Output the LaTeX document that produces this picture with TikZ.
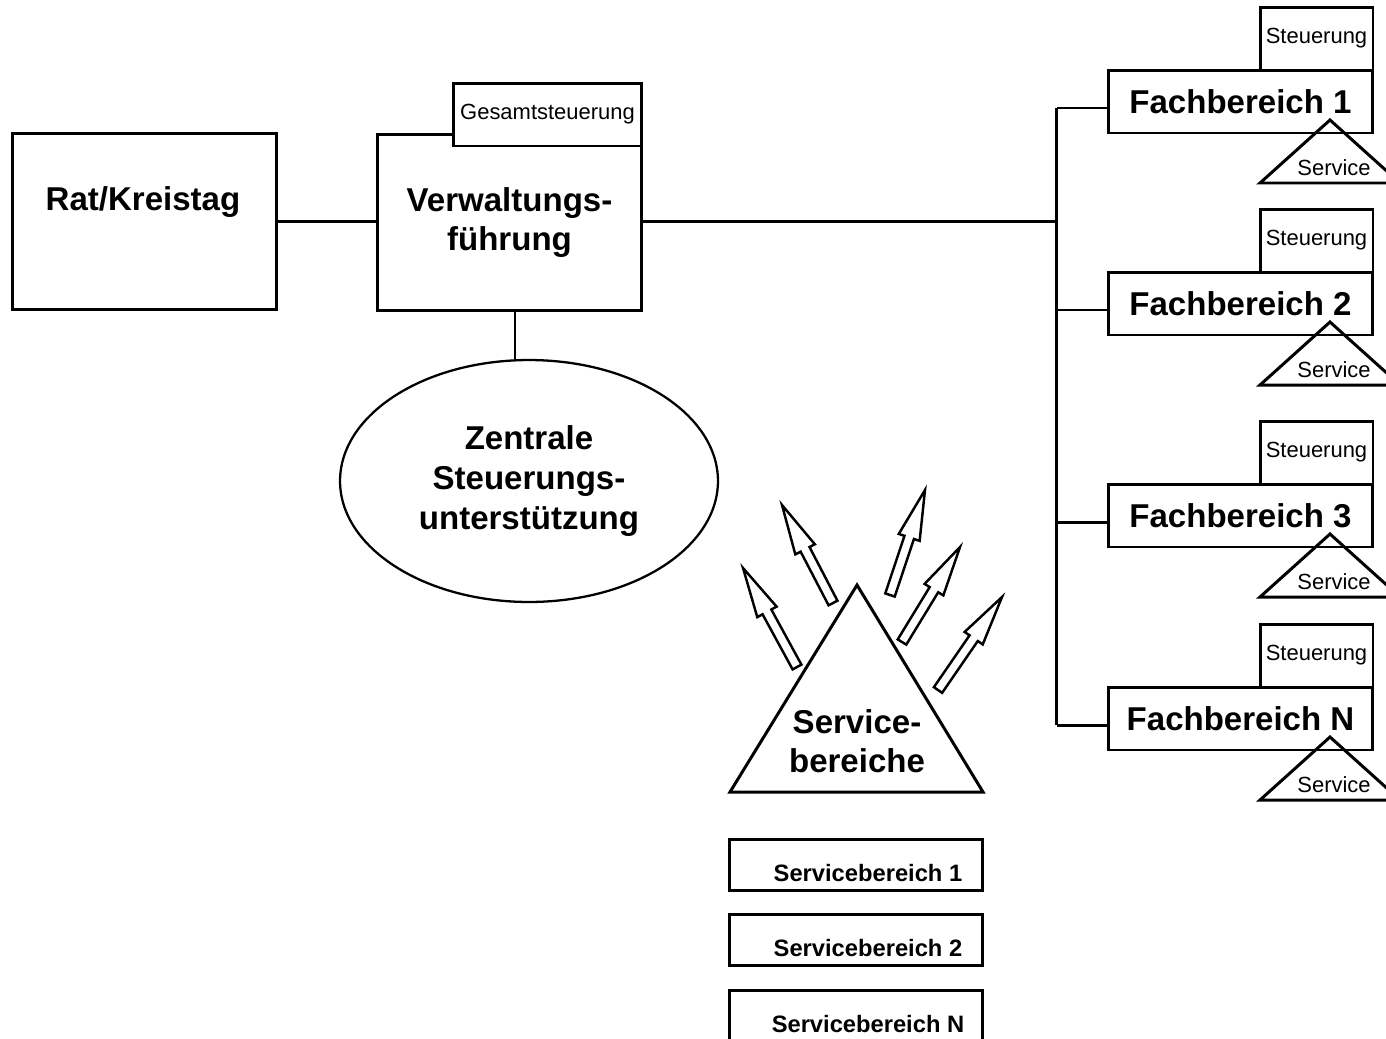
\documentclass[tikz,border=0pt]{standalone}
\usepackage{fontspec}
\setmainfont{Liberation Sans}
\usetikzlibrary{shapes.geometric,calc}
\begin{document}
\begin{tikzpicture}[x=0.02cm,y=-0.02cm,line width=1.7pt,
  orgbox/.style={draw,fill=white,inner sep=0pt},
  big/.style={font=\fontsize{18.8}{22.5}\selectfont\bfseries,align=center},
  small/.style={font=\fontsize{12.5}{14}\selectfont},
  sbfont/.style={font=\fontsize{13.5}{15}\selectfont\bfseries},
  hollow/.style={line width=1.4pt,line join=miter}]
\clip (0,0) rectangle (1386,1038);
\node[orgbox,minimum width=5.3cm,minimum height=3.54cm] (rat) at (144.5,221.5) {};
\node[big] (ratlbl) at (143,202) {Rat/Kreistag};
\node[orgbox,big,minimum width=5.3cm,minimum height=3.54cm] (verw) at (509.5,222.5) {Verwaltungs-\\führung};
\node[orgbox,small,minimum width=3.78cm,minimum height=1.26cm] (gesamt) at (547.5,114.5) {Gesamtsteuerung};
\node[draw,ellipse,big,line width=1.3pt,inner sep=0pt,minimum width=7.56cm,minimum height=4.84cm] (zsu) at (529,481) {Zentrale\\Steuerungs-\\unterstützung};
\draw (rat) -- (rat -| verw.west);
\draw ([xshift=0.11cm]verw.south) -- ([xshift=0.11cm]verw.south |- zsu.north);
\foreach \t/\n in {70/1,272/2,484/3,687/N}{
  \node[orgbox,small,minimum width=2.26cm,minimum height=1.26cm] (st\n) at (1316.5,\t-31.5) {Steuerung};
  \node[orgbox,big,minimum width=5.3cm,minimum height=1.26cm] (fb\n) at (1240.5,\t+31.5) {Fachbereich \n};
  \draw (1330,\t+50) -- (1400,\t+113) -- (1260,\t+113) -- cycle;
  \node[small] (sv\n) at (1334,\t+98) {Service};
  \draw ([yshift=-0.13cm]fb\n.west) -- ++(-50,0) coordinate (br\n);
}
\draw (br1) -- (brN);
\draw (rat -| verw.east) -- (rat -| br1);
\draw (857,585) -- (983,792) -- (730,792) -- cycle;
\node[big] (svb) at (857,741) {Service-\\bereiche};
\foreach \tx/\ty/\hx/\hy [count=\k] in {797/667/743/568,833/603/782/505,890/595/925/490,902/642/960/547,938/690/1002/597}{
  \coordinate (t\k) at (\tx,\ty);
  \coordinate (h\k) at (\hx,\hy);
  \coordinate (b\k) at ($(h\k)!1cm!(t\k)$);
  \draw[hollow] ($(t\k)!0.1cm!90:(h\k)$) -- ($(b\k)!0.1cm!-90:(t\k)$) -- ($(b\k)!0.22cm!-90:(t\k)$) -- (h\k)
    -- ($(b\k)!0.22cm!90:(t\k)$) -- ($(b\k)!0.1cm!90:(t\k)$) -- ($(t\k)!0.1cm!-90:(h\k)$) -- cycle;
}
\foreach \y/\k in {864.5/1,939.5/2,1015.5/N}{
  \node[orgbox,minimum width=5.08cm,minimum height=1.02cm] (sb\k) at (856,\y) {};
  \node[sbfont] (sbl\k) at ([xshift=0.24cm,yshift=-0.17cm]sb\k.center) {Servicebereich \k};
}
\end{tikzpicture}
\end{document}
